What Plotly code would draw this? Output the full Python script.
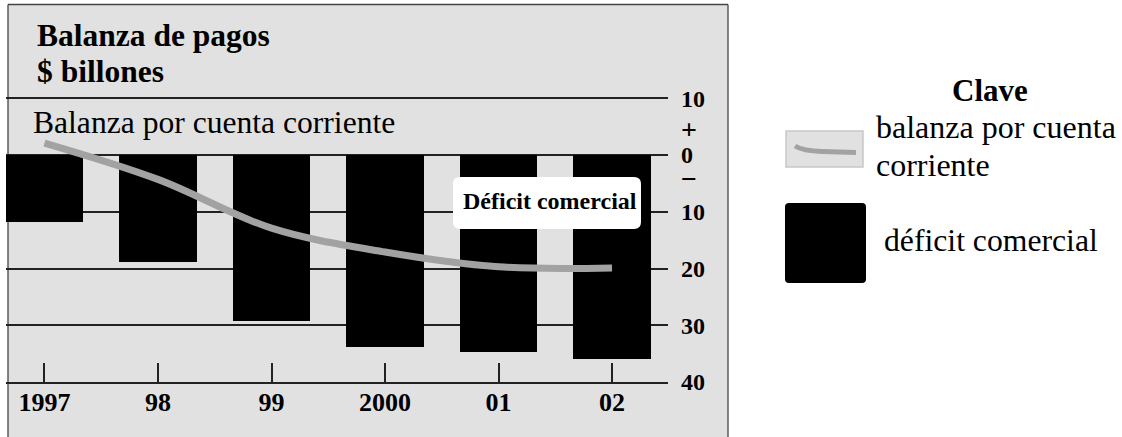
import plotly.graph_objects as go

# ---- data ----
years = ["1997", "98", "99", "2000", "01", "02"]
trade_deficit = [-11.8, -18.8, -29.2, -33.9, -34.7, -35.9]
current_account = [2.1, -4.3, -12.9, -17.1, -19.7, -19.9]
y_tick_vals = [10, 0, -10, -20, -30, -40]
y_tick_text = ["10", "0", "10", "20", "30", "40"]

# ---- helpers (reference pixel -> paper fraction) ----
W, H = 1122, 437


def px(x):
    return x / W


def py(y):
    return 1 - y / H


def rounded_rect(x0, y0, x1, y1, r):
    pts = [
        ("M", [(x0 + r, y0)]),
        ("L", [(x1 - r, y0)]),
        ("Q", [(x1, y0), (x1, y0 + r)]),
        ("L", [(x1, y1 - r)]),
        ("Q", [(x1, y1), (x1 - r, y1)]),
        ("L", [(x0 + r, y1)]),
        ("Q", [(x0, y1), (x0, y1 - r)]),
        ("L", [(x0, y0 + r)]),
        ("Q", [(x0, y0), (x0 + r, y0)]),
    ]
    s = ""
    for cmd, coords in pts:
        s += cmd + " " + " ".join(f"{px(a):.5f},{py(b):.5f}" for a, b in coords) + " "
    return s + "Z"


SERIF = "Liberation Serif"
PANEL = "#e1e1e1"
LINE_GRAY = "#a2a2a2"
INK = "#222222"
BORDER = "#444444"

fig = go.Figure()
fig.add_trace(go.Bar(
    x=years, y=trade_deficit, width=0.683,
    marker=dict(color="black", line=dict(width=0)),
    hoverinfo="skip",
))
fig.add_trace(go.Scatter(
    x=years, y=current_account, mode="lines",
    line=dict(color=LINE_GRAY, width=7, shape="spline", smoothing=1.0),
    hoverinfo="skip",
))

shapes = [
    # gray panel (fill only, kept inside the figure)
    dict(type="rect", xref="paper", yref="paper",
         x0=px(8), x1=px(728), y0=0, y1=py(4.5),
         fillcolor=PANEL, line=dict(width=0), layer="below"),
    # panel borders: top, left, right
    dict(type="line", xref="paper", yref="paper",
         x0=px(8), x1=px(728), y0=py(4.5), y1=py(4.5),
         line=dict(color=BORDER, width=1.3), layer="below"),
    dict(type="line", xref="paper", yref="paper",
         x0=px(8), x1=px(8), y0=0, y1=py(4.5),
         line=dict(color=BORDER, width=1.3), layer="below"),
    dict(type="line", xref="paper", yref="paper",
         x0=px(728), x1=px(728), y0=0, y1=py(4.5),
         line=dict(color=BORDER, width=1.3), layer="below"),
    # white label box
    dict(type="path", xref="paper", yref="paper",
         path=rounded_rect(453, 177, 641, 229, 7),
         fillcolor="white", line=dict(width=0), layer="above"),
    # legend swatch for line
    dict(type="rect", xref="paper", yref="paper",
         x0=px(786), x1=px(863), y0=py(167), y1=py(131),
         fillcolor=PANEL, line=dict(color="#c8c8c8", width=1.5), layer="above"),
    dict(type="path", xref="paper", yref="paper",
         path=(f"M {px(795):.5f},{py(146):.5f} Q {px(803):.5f},{py(151):.5f} "
               f"{px(822):.5f},{py(151.5):.5f} L {px(856):.5f},{py(152.5):.5f}"),
         line=dict(color=LINE_GRAY, width=5), layer="above"),
    # legend swatch for bars
    dict(type="path", xref="paper", yref="paper",
         path=rounded_rect(785, 203, 866, 283, 4),
         fillcolor="black", line=dict(width=0), layer="above"),
]


def ann(text, x, y, size, bold=False, xanchor="left", height=None):
    a = dict(
        text=text, x=px(x), y=py(y), xref="paper", yref="paper",
        xanchor=xanchor, yanchor="middle", showarrow=False,
        font=dict(family=SERIF, size=size, color="black",
                  weight="bold" if bold else "normal"),
    )
    if height is not None:
        a["height"] = height
        a["borderpad"] = 0
    return a


annotations = [
    ann("Balanza de pagos", 35, 36, 31.5, bold=True),
    ann("$ billones", 35, 71, 31.5, bold=True),
    ann("Balanza por cuenta corriente", 31, 123, 31.6),
    ann("+", 689, 129, 28, bold=True, xanchor="center", height=14),
    ann("−", 689, 178, 28, bold=True, xanchor="center", height=12),
    ann("Déficit comercial", 550, 201, 24, bold=True, xanchor="center"),
    ann("Clave", 990, 90, 31, bold=True, xanchor="center"),
    ann("balanza por cuenta", 874, 127, 32),
    ann("corriente", 874, 165, 32),
    ann("déficit comercial", 882, 240, 31.7),
]

fig.update_layout(
    width=W, height=450,
    margin=dict(l=0, r=0, t=0, b=0),
    paper_bgcolor="white", plot_bgcolor="rgba(0,0,0,0)",
    showlegend=False, bargap=0,
    shapes=shapes, annotations=annotations,
    xaxis=dict(
        type="category", domain=[px(6), px(668)], range=[-0.339, 5.493],
        ticks="inside", ticklen=19, tickwidth=1.5, tickcolor=INK,
        showline=True, linecolor=INK, linewidth=1.5, showgrid=False,
        ticklabelstandoff=-4,
        tickfont=dict(family=SERIF, size=26, color="black", weight="bold"),
        fixedrange=True,
    ),
    yaxis=dict(
        domain=[py(382), 1], range=[-40, 27.31], side="right",
        tickmode="array", tickvals=y_tick_vals, ticktext=y_tick_text,
        showgrid=True, gridcolor=INK, gridwidth=1.5, zeroline=False,
        ticks="", ticklabelstandoff=12, showline=False,
        tickfont=dict(family=SERIF, size=24, color="black", weight="bold"),
        fixedrange=True,
    ),
)

fig.write_html(
    "out.html",
    config=dict(displayModeBar=False),
    post_script=(
        "var h=document.documentElement,b=document.body;"
        "h.style.margin='0';h.style.padding='0';h.style.overflow='hidden';"
        "b.style.margin='0';b.style.padding='0';b.style.overflow='hidden';"
    ),
)
